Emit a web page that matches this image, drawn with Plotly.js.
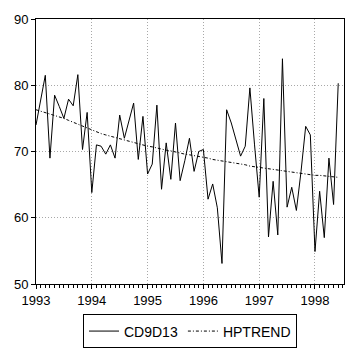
<!DOCTYPE html>
<html>
<head>
<meta charset="utf-8">
<script src="https://cdn.plot.ly/plotly-3.0.1.min.js"></script>
<style>html,body{margin:0;padding:0;background:#fff;}#chart{width:361px;height:360px;}</style>
</head>
<body>
<div id="chart"></div>
<script>
// Monthly observations 1993M01 - 1998M06
const startYear = 1993;
const cd9d13 = [
  74.0, 77.5, 81.5, 69.0, 78.5, 76.8, 75.0, 77.9, 76.9, 81.6, 70.3, 75.9,
  63.8, 71.0, 70.8, 69.6, 71.0, 69.0, 75.5, 72.0, 74.6, 77.3, 68.8, 75.3,
  66.6, 68.1, 77.0, 64.3, 71.3, 65.8, 74.3, 65.6, 68.6, 72.0, 67.0, 70.0,
  70.3, 62.8, 65.1, 61.5, 53.1, 76.3, 74.3, 71.8, 69.3, 70.8, 79.6, 71.0,
  63.1, 78.0, 57.1, 65.5, 57.4, 84.0, 61.6, 64.6, 61.1, 67.0, 73.8, 72.5,
  54.9, 64.0, 57.0, 69.0, 62.0, 80.3
];
const hptrend = [
  76.3, 76.1, 75.9, 75.7, 75.5, 75.2, 75.0, 74.7, 74.4, 74.1, 73.8, 73.5,
  73.2, 73.0, 72.7, 72.5, 72.3, 72.1, 71.9, 71.7, 71.5, 71.3, 71.1, 71.0,
  70.8, 70.7, 70.5, 70.4, 70.2, 70.1, 69.9, 69.8, 69.6, 69.5, 69.4, 69.2,
  69.1, 69.0, 68.8, 68.7, 68.6, 68.4, 68.3, 68.2, 68.1, 68.0, 67.8, 67.7,
  67.6, 67.5, 67.4, 67.2, 67.1, 67.0, 66.9, 66.8, 66.8, 66.7, 66.6, 66.5,
  66.4, 66.4, 66.3, 66.2, 66.2, 66.1
];
const yearTicks = [1993, 1994, 1995, 1996, 1997, 1998];
const yTicks = [50, 60, 70, 80, 90];

const t = cd9d13.map((_, i) => startYear + i / 12);

const font = {family: 'Liberation Sans, Arial, sans-serif', size: 13, color: '#000'};

Plotly.newPlot('chart', [
  {x: t, y: cd9d13, type: 'scatter', mode: 'lines', name: 'CD9D13',
   line: {color: '#000', width: 1}},
  {x: t, y: hptrend, type: 'scatter', mode: 'lines', name: 'HPTREND',
   line: {color: '#000', width: 1, dash: '3px,2px,1px,2px'}}
], {
  width: 361, height: 360,
  margin: {l: 36, r: 17, t: 19, b: 73},
  paper_bgcolor: '#fff', plot_bgcolor: '#fff',
  font: font,
  showlegend: true,
  legend: {orientation: 'h', x: 0.5, xanchor: 'center', y: -0.115, yanchor: 'top',
           bordercolor: '#000', borderwidth: 1, bgcolor: '#fff',
           font: {family: 'Liberation Sans, Arial, sans-serif', size: 14, color: '#000'},
           itemwidth: 30, tracegroupgap: 0},
  xaxis: {range: [1993, 1998.52], tickvals: yearTicks, ticktext: yearTicks.map(String),
          showgrid: true, gridcolor: '#a8a8a8', griddash: '1px,2px', gridwidth: 1,
          showline: true, linecolor: '#000', linewidth: 1, mirror: true,
          ticks: 'outside', ticklen: 4, tickcolor: '#000',
          minor: {dtick: 1/12, tick0: 1993, ticks: 'outside', ticklen: 3, tickcolor: '#000', showgrid: false},
          zeroline: false, fixedrange: true},
  yaxis: {range: [50, 90], tickvals: yTicks,
          showgrid: true, gridcolor: '#a8a8a8', griddash: '1px,2px', gridwidth: 1,
          showline: true, linecolor: '#000', linewidth: 1, mirror: true,
          ticks: 'outside', ticklen: 4, tickcolor: '#000',
          zeroline: false, fixedrange: true}
}, {displayModeBar: false, staticPlot: true});
</script>
</body>
</html>
